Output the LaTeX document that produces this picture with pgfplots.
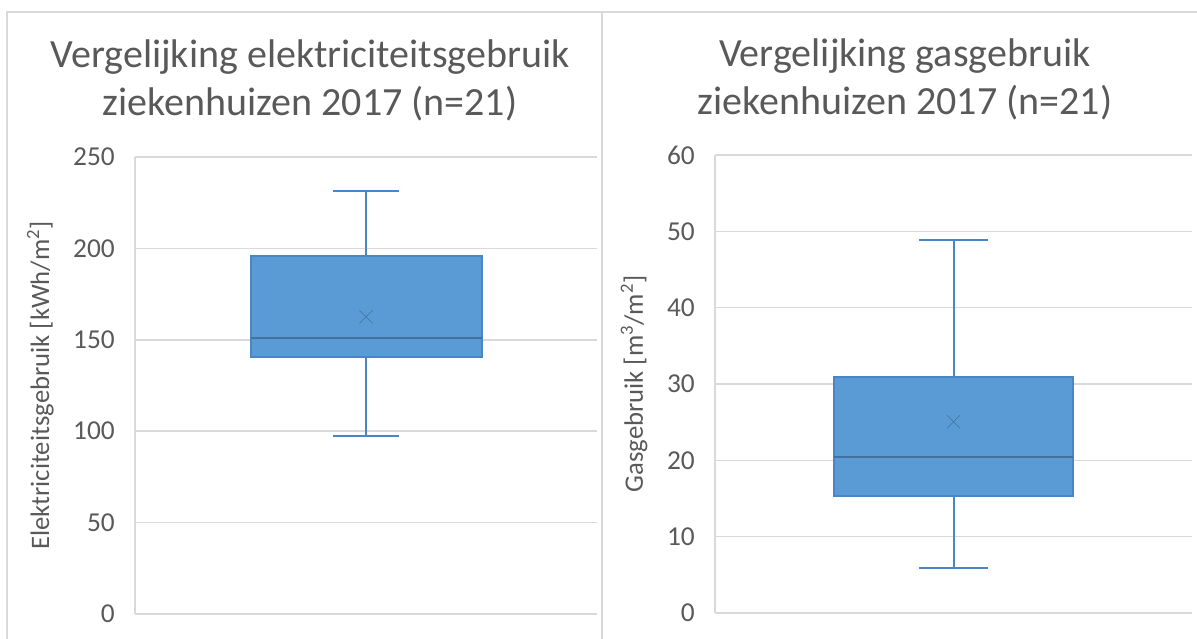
\documentclass[border=0pt]{standalone}
\usepackage{fontspec}
\setmainfont{Carlito}
\usepackage{pgfplots}
\usepgfplotslibrary{statistics}
\pgfplotsset{compat=1.18}

\definecolor{txt}{HTML}{595959}
\definecolor{gridc}{HTML}{D9D9D9}
\definecolor{boxfill}{HTML}{5B9BD5}
\definecolor{boxline}{HTML}{4A86C5}
\definecolor{medline}{HTML}{41719C}

% shared look of both panels
\pgfplotsset{
  excelbox/.style={
    scale only axis,
    xmin=0, xmax=2,
    xtick=\empty,
    axis x line*=bottom,
    axis y line*=left,
    axis line style={gridc, line width=1.2pt},
    ymajorgrids=true,
    grid style={gridc, line width=1.2pt},
    major tick length=0pt,
    ymin=0,
    /pgf/number format/assume math mode=true,
    yticklabel style={font=\fontsize{20.5}{24}\selectfont, text=txt, anchor=east, inner sep=0pt, xshift=-15pt},
    ylabel style={font=\fontsize{20}{24}\selectfont, text=txt, at={(axis description cs:0,0.5)}, anchor=center},
    title style={font=\fontsize{30}{36}\selectfont, text=txt, align=center, anchor=center},
    boxplot/draw direction=y,
    boxplot/every box/.style={fill=boxfill, draw=boxline, line width=1.5pt},
    boxplot/every whisker/.style={draw=boxline, line width=1.5pt},
    boxplot/every median/.style={draw=medline, line width=1.5pt},
    boxplot/every average/.style={/tikz/mark=x, /tikz/mark size=7pt, line width=1.2pt},
  }
}

\begin{document}
\begin{tikzpicture}
\path[use as bounding box] (0,0) rectangle (897.75pt,-479.25pt);
\draw[gridc, line width=1.2pt] (5.25pt,-479.25pt) -- (5.25pt,-9pt) -- (897.75pt,-9pt);
\draw[gridc, line width=1.2pt] (451.5pt,-9pt) -- (451.5pt,-479.25pt);

\begin{axis}[
  excelbox,
  at={(101.25pt,-460.5pt)}, anchor=south west,
  width=346.5pt, height=342.75pt,
  ymax=250, ytick={0,50,100,150,200,250},
  ylabel={Elektriciteitsgebruik [kWh/m\textsuperscript{2}]},
  ylabel style={yshift=71pt},
  title={Vergelijking elektriciteitsgebruik\\ziekenhuizen 2017 (n=21)},
  title style={at={(axis description cs:0.379,1.151)}},
]
\addplot[color=medline, solid, mark=none, boxplot prepared={
    draw position=1,
    lower whisker=97.4, lower quartile=140.8, median=151,
    upper quartile=196, upper whisker=231.4, average=162.6,
    box extend=1.0, whisker extend=0.29}]
  coordinates {};
\end{axis}

\begin{axis}[
  excelbox,
  at={(536.25pt,-459.75pt)}, anchor=south west,
  width=357.75pt, height=343.5pt,
  ymax=60, ytick={0,10,20,30,40,50,60},
  ylabel={Gasgebruik [m\textsuperscript{3}/m\textsuperscript{2}]},
  ylabel style={yshift=60.75pt},
  title={Vergelijking gasgebruik\\ziekenhuizen 2017 (n=21)},
  title style={at={(axis description cs:0.398,1.147)}},
]
\addplot[color=medline, solid, mark=none, boxplot prepared={
    draw position=1,
    lower whisker=5.94, lower quartile=15.3, median=20.4,
    upper quartile=30.9, upper whisker=48.9, average=25.07,
    box extend=1.0, whisker extend=0.29}]
  coordinates {};
\end{axis}
\end{tikzpicture}
\end{document}
